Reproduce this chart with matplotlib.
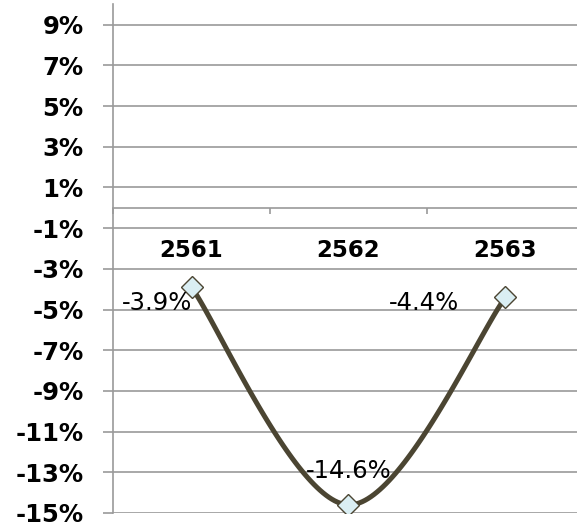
import numpy as np
import matplotlib.pyplot as plt

# data
years = ["2561", "2562", "2563"]
values = [-3.9, -14.6, -4.4]
labels = ["-3.9%", "-14.6%", "-4.4%"]
y_ticks = list(range(-15, 10, 2))

# label offsets in pixels relative to each point
label_offsets = [(1, -16), (0, 34), (-46, -6)]
label_ha = ["right", "center", "right"]

line_color = "#4b4532"
grid_color = "#9a9a9a"

plt.rcParams["font.family"] = ["DejaVu Sans"]

fig = plt.figure(figsize=(5.77, 5.28), dpi=100)
ax = fig.add_axes([113 / 577, 1 - 513 / 528, 471 / 577, 508.6 / 528])

x = np.arange(len(values))
y = np.array(values, dtype=float)

ax.set_xlim(-0.5, 2.5)
ax.set_ylim(-15, 10)

# smoothed line (bezier through the points, like a spreadsheet "smooth line")
sx, sy = 157.0, 20.35
P = np.column_stack([x * sx, y * sy])
n = len(P)
T = np.zeros_like(P)
for i in range(n):
    a = P[max(i - 1, 0)]
    b = P[min(i + 1, n - 1)]
    T[i] = (b - a) / 2.0
curve = []
t = np.linspace(0, 1, 60)[:, None]
for i in range(n - 1):
    p0 = P[i]
    p3 = P[i + 1]
    c1 = p0 + T[i] / 3.0
    c2 = p3 - T[i + 1] / 3.0
    seg = ((1 - t) ** 3) * p0 + 3 * ((1 - t) ** 2) * t * c1 + 3 * (1 - t) * t ** 2 * c2 + t ** 3 * p3
    curve.append(seg)
curve = np.vstack(curve)
ax.plot(curve[:, 0] / sx, curve[:, 1] / sy, color=line_color, lw=3.6,
        solid_capstyle="round", zorder=3)
ax.plot(x, y, linestyle="none", marker="D", markersize=11,
        markerfacecolor="#daeef3", markeredgecolor="#4b4532", markeredgewidth=1.0,
        zorder=4)

# data labels
for xi, yi, lab, off, ha in zip(x, y, labels, label_offsets, label_ha):
    ax.annotate(lab, (xi, yi), xytext=off, textcoords="offset pixels",
                ha=ha, va="center", fontsize=17.5, color="black", zorder=5)

# grid and axes
ax.set_yticks(y_ticks)
ax.set_yticklabels([f"{v}%" for v in y_ticks], fontsize=17.5, fontweight="bold")
ax.yaxis.grid(True, color=grid_color, lw=1.2)
ax.set_axisbelow(True)
ax.tick_params(axis="y", direction="out", length=7.2, width=1.2, color=grid_color, pad=14)

for s in ["top", "right"]:
    ax.spines[s].set_visible(False)
ax.spines["left"].set_color(grid_color)
ax.spines["left"].set_linewidth(1.2)
ax.spines["bottom"].set_position(("data", 0))
ax.spines["bottom"].set_color(grid_color)
ax.spines["bottom"].set_linewidth(1.2)

ax.set_xticks([-0.5, 0.5, 1.5, 2.5])
ax.set_xticklabels([])
ax.tick_params(axis="x", direction="out", length=4.3, width=1.2, color=grid_color)

for xi, yr in zip(x, years):
    ax.annotate(yr, (xi, 0), xytext=(0, -43), textcoords="offset pixels",
                ha="center", va="center", fontsize=16.5, fontweight="bold")

fig.savefig("out.png", dpi=100)
